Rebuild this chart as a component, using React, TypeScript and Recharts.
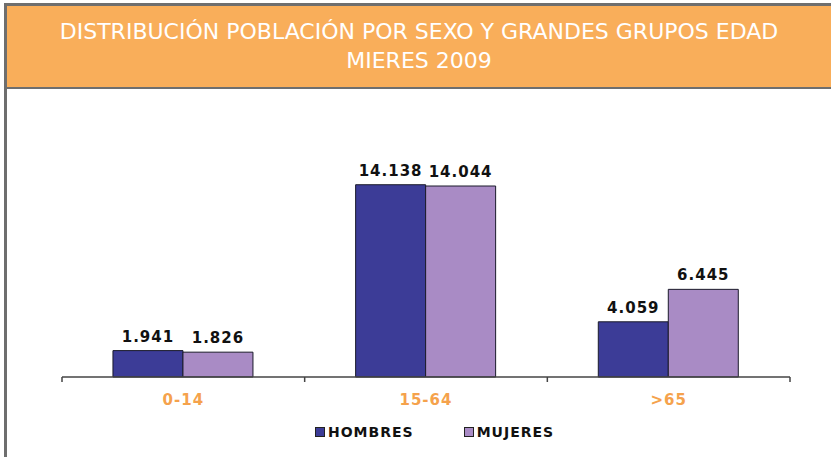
import { BarChart, Bar, XAxis, YAxis, LabelList } from 'recharts';

const categories = ['0-14', '15-64', '>65'];
const hombres = [1941, 14138, 4059];
const mujeres = [1826, 14044, 6445];

const seriesNames = ['HOMBRES', 'MUJERES'];
const seriesColors = ['#3c3c97', '#a98bc5'];

const data = categories.map((c, i) => ({ group: c, hombres: hombres[i], mujeres: mujeres[i] }));

const fmt = (v: any) => String(v).replace(/\B(?=(\d{3})+(?!\d))/g, '.');

const LABEL_FONT = '"DejaVu Sans", Verdana, sans-serif';

function GroupTick(props: any) {
  const { x, y, payload, index } = props;
  const half = payload?.offset ?? 121;
  const last = index === categories.length - 1;
  return (
    <g>
      <line x1={x - half} y1={y - 8} x2={x - half} y2={y - 3} stroke="#444" strokeWidth={1.5} />
      {last && <line x1={x + half} y1={y - 8} x2={x + half} y2={y - 3} stroke="#444" strokeWidth={1.5} />}
      <text
        x={x}
        y={y + 20}
        textAnchor="middle"
        fill="#f5a24c"
        fontFamily={LABEL_FONT}
        fontWeight="bold"
        fontSize={15}
        letterSpacing={1}
      >
        {payload.value}
      </text>
    </g>
  );
}

export default function App() {
  return (
    <div style={{ position: 'absolute', left: 0, top: 0, width: 831, height: 457, background: '#fff', overflow: 'hidden' }}>
      <div
        style={{
          position: 'absolute',
          left: 4,
          top: 3,
          width: 840,
          height: 470,
          borderTop: '3px solid #6e6e6e',
          borderLeft: '3px solid #6e6e6e',
        }}
      />
      <div
        style={{
          position: 'absolute',
          left: 7,
          top: 6,
          width: 824,
          background: '#f9ae5a',
          borderBottom: '2px solid #6e6e6e',
          color: '#fff',
          fontFamily: '"DejaVu Sans", sans-serif',
          fontSize: 22,
          textAlign: 'center',
          lineHeight: '29px',
          paddingTop: 11,
          boxSizing: 'border-box',
          height: 83,
        }}
      >
        <div>DISTRIBUCIÓN POBLACIÓN POR SEXO Y GRANDES GRUPOS EDAD</div>
        <div>MIERES 2009</div>
      </div>

      <div style={{ position: 'absolute', left: 0, top: 90 }}>
        <BarChart
          width={831}
          height={367}
          data={data}
          margin={{ top: 15, right: 41, bottom: 50, left: 62 }}
          barCategoryGap="21%"
          barGap={0}
        >
          <YAxis hide domain={[0, 20000]} />
          <XAxis
            dataKey="group"
            axisLine={{ stroke: '#444', strokeWidth: 1.5 }}
            tickLine={false}
            tick={<GroupTick />}
            interval={0}
          />
          {['hombres', 'mujeres'].map((key, i) => (
            <Bar
              key={key}
              dataKey={key}
              name={seriesNames[i]}
              fill={seriesColors[i]}
              stroke="#1a1a2a"
              strokeWidth={1}
              isAnimationActive={false}
            >
              <LabelList
                dataKey={key}
                position="top"
                offset={9}
                formatter={fmt}
                fill="#111"
                fontFamily={LABEL_FONT}
                fontWeight="bold"
                fontSize={15}
                letterSpacing={1}
              />
            </Bar>
          ))}
        </BarChart>
      </div>

      <div
        style={{
          position: 'absolute',
          left: 315,
          top: 424,
          display: 'flex',
          alignItems: 'center',
          fontFamily: LABEL_FONT,
          fontWeight: 'bold',
          fontSize: 14,
          letterSpacing: 1,
          color: '#111',
        }}
      >
        {seriesNames.map((n, i) => (
          <div key={n} style={{ display: 'flex', alignItems: 'center', marginRight: i === 0 ? 50 : 0 }}>
            <span
              style={{
                width: 8,
                height: 8,
                background: seriesColors[i],
                border: '1px solid #222',
                marginRight: 3,
                display: 'inline-block',
              }}
            />
            <span>{n}</span>
          </div>
        ))}
      </div>
    </div>
  );
}
